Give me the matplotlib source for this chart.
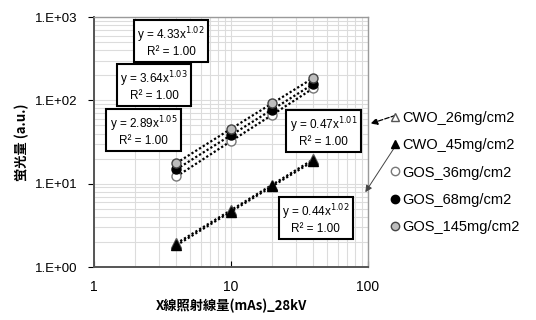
import matplotlib.pyplot as plt
import numpy as np
from matplotlib.lines import Line2D
from matplotlib.ticker import FuncFormatter, LogLocator

plt.rcParams['font.family'] = ['Liberation Sans', 'Noto Sans CJK JP', 'DejaVu Sans']

# exposure (mAs) and luminescence values (a.u.)
mas = [4, 10, 20, 40]
cwo_26 = [1.92, 4.81, 9.7, 19.6]
cwo_45 = [1.82, 4.62, 9.3, 18.7]
gos_36 = [12.2, 32.4, 67.0, 140.0]
gos_68 = [14.9, 38.2, 77.5, 157.0]
gos_145 = [17.7, 45.5, 92.0, 186.0]

labels = ['CWO_26mg/cm2', 'CWO_45mg/cm2', 'GOS_36mg/cm2', 'GOS_68mg/cm2', 'GOS_145mg/cm2']

# trendline equations shown on the chart
fit_text = ['y = 4.33x$^{1.02}$\nR² = 1.00',
            'y = 3.64x$^{1.03}$\nR² = 1.00',
            'y = 2.89x$^{1.05}$\nR² = 1.00',
            'y = 0.47x$^{1.01}$\nR² = 1.00',
            'y = 0.44x$^{1.02}$\nR² = 1.00']

fig = plt.figure(figsize=(5.36, 3.2), dpi=100)
ax = fig.add_axes([0.1754, 0.1656, 0.511, 0.7812])

ls = (0, (1, 1))
styles = [
    (cwo_26, dict(marker='^', mfc='white', mec='#555555', ms=6.5)),
    (cwo_45, dict(marker='^', mfc='black', mec='black', ms=6.5)),
    (gos_36, dict(marker='o', mfc='white', mec='#777777', ms=6.5)),
    (gos_68, dict(marker='o', mfc='black', mec='black', ms=6.5)),
    (gos_145, dict(marker='o', mfc='#bdbdbd', mec='#444444', ms=6.5)),
]
for vals, st in styles:
    ax.plot(mas, vals, color='black', lw=1.6, ls=ls, zorder=3, **st)

ax.set_xscale('log')
ax.set_yscale('log')
ax.set_xlim(1, 100)
ax.set_ylim(1, 1000)

ax.yaxis.set_major_formatter(FuncFormatter(lambda v, p: '1.E+%02d' % round(np.log10(v))))
ax.xaxis.set_major_formatter(FuncFormatter(lambda v, p: '%d' % v))
ax.xaxis.set_minor_locator(LogLocator(subs=np.arange(2, 10)))
ax.yaxis.set_minor_locator(LogLocator(subs=np.arange(2, 10)))
ax.tick_params(which='minor', length=0)
ax.tick_params(axis='y', which='major', direction='out', length=4, labelsize=9.5, pad=8)
ax.tick_params(axis='x', which='major', direction='in', length=4, labelsize=10, pad=9)
ax.grid(True, which='both', color='#dcdcdc', lw=0.8)
for s in ax.spines.values():
    s.set_color('#9a9a9a')
    s.set_linewidth(1.0)
for s in ['left', 'bottom']:
    ax.spines[s].set_color('#555555')
    ax.spines[s].set_linewidth(1.4)

cjk = ['Noto Sans CJK JP', 'DejaVu Sans']
ax.set_ylabel('蛍光量 (a.u.)', family=cjk, fontweight='bold', fontsize=9.5, labelpad=4)
ax.set_xlabel('X線照射線量(mAs)_28kV', family=cjk, fontweight='bold', fontsize=9.5, labelpad=4)

box_pos = [(0.281, 0.900), (0.219, 0.724), (0.182, 0.544), (0.839, 0.540), (0.810, 0.192)]
for (bx, by), t in zip(box_pos, fit_text):
    ax.text(bx, by, t, transform=ax.transAxes, ha='center', va='center',
            fontsize=8.5, linespacing=1.1, zorder=5,
            bbox=dict(boxstyle='square,pad=0.3', fc='white', ec='black', lw=1.5))

handles = [Line2D([], [], ls='none', **st) for _, st in styles]
for h in handles:
    h.set_markersize(6)
leg = fig.legend(handles, labels, loc='upper left', bbox_to_anchor=(0.716, 0.675),
                 frameon=False, fontsize=10.5, handlelength=0.6, handletextpad=0.2,
                 labelspacing=0.9, borderpad=0)

# arrows from the legend to the equation boxes
ax.annotate('', xy=(1.0, 0.57), xytext=(1.11, 0.61), xycoords='axes fraction',
            annotation_clip=False,
            arrowprops=dict(arrowstyle='-|>', color='black', lw=0.9, ls='--'))
ax.annotate('', xy=(0.985, 0.29), xytext=(1.11, 0.50), xycoords='axes fraction',
            annotation_clip=False,
            arrowprops=dict(arrowstyle='-|>', color='#444444', lw=0.7))

fig.savefig('out.png', dpi=100)
